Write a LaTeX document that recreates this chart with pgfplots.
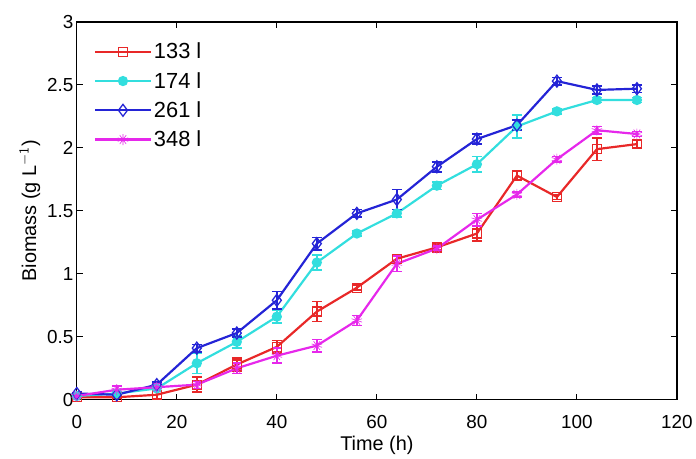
\documentclass[border=0pt]{standalone}
\usepackage{pgfplots}
\pgfplotsset{compat=1.18}
\usepackage{pgfplotstable}
\usepackage{fontspec}
\setmainfont{Liberation Sans}
\usetikzlibrary{plotmarks}
\definecolor{cred}{RGB}{232,40,40}
\definecolor{ccyan}{RGB}{50,222,222}
\definecolor{cblue}{RGB}{36,36,214}
\definecolor{cmag}{RGB}{230,40,235}

\pgfplotstableread{
t y e
0 0.02 0.01
8 0.02 0.01
16 0.04 0.03
24 0.12 0.06
32 0.28 0.05
40 0.42 0.05
48 0.70 0.08
56 0.89 0.02
64 1.12 0.03
72 1.21 0.02
80 1.32 0.06
88 1.78 0.04
96 1.61 0.02
104 1.99 0.09
112 2.03 0.03
}\tabred
\pgfplotstableread{
t y e
0 0.03 0.01
8 0.05 0.01
16 0.09 0.02
24 0.29 0.08
32 0.46 0.05
40 0.66 0.05
48 1.09 0.06
56 1.32 0.02
64 1.48 0.03
72 1.70 0.03
80 1.87 0.06
88 2.17 0.09
96 2.29 0.02
104 2.38 0.02
112 2.38 0.02
}\tabcyan
\pgfplotstableread{
t y e
0 0.05 0.01
8 0.04 0.01
16 0.12 0.02
24 0.41 0.03
32 0.53 0.03
40 0.79 0.07
48 1.24 0.05
56 1.48 0.03
64 1.59 0.08
72 1.85 0.04
80 2.07 0.04
88 2.18 0.04
96 2.53 0.03
104 2.46 0.03
112 2.47 0.03
}\tabblue
\pgfplotstableread{
t y e
0 0.03 0.01
8 0.08 0.03
16 0.10 0.03
24 0.12 0.03
32 0.25 0.04
40 0.35 0.06
48 0.43 0.05
56 0.63 0.04
64 1.08 0.06
72 1.20 0.02
80 1.43 0.05
88 1.63 0.02
96 1.91 0.02
104 2.14 0.03
112 2.11 0.02
}\tabmag

\begin{document}
\begin{tikzpicture}
\begin{axis}[
  scale only axis,
  width=602bp, height=379bp,
  xmin=0, xmax=120, ymin=0, ymax=3,
  xtick={0,20,...,120},
  ytick={0,0.5,...,3},
  yticklabels={0,0.5,1,1.5,2,2.5,3},
  /pgf/number format/assume math mode=true,
  tick label style={font=\fontsize{19}{22}\selectfont},
  xticklabel style={yshift=-12bp},
  label style={font=\fontsize{20}{23}\selectfont},
  xlabel={Time (h)},
  ylabel={Biomass (g L$^{\mathsf{-1}}$)},
  xlabel style={yshift=-1bp},
  ylabel style={yshift=0bp},
  axis line style={line width=1.3pt},
  tick style={line width=1.1pt, black},
  major tick length=6bp,
  tick align=inside,
  error bars/y dir=both,
  error bars/y explicit,
  error bars/error bar style={line width=1.6pt},
  error bars/error mark options={rotate=90, line width=1.6pt, mark size=5bp},
  legend style={draw=none, fill=white, at={(0.025,0.955)}, anchor=north west,
    font=\fontsize{22}{26}\selectfont, row sep=8bp, inner sep=2bp},
  legend cell align=left,
  legend image code/.code={%
    \draw[mark repeat=2,mark phase=2] plot coordinates {(0bp,0bp) (28bp,0bp) (56bp,0bp)};},
]
\addplot[color=cred, line width=2.2pt, mark=square, mark size=4.5bp, mark options={solid, line width=1.3pt}] table[x=t,y=y,y error=e] {\tabred};
\addlegendentry{133 l}
\addplot[color=ccyan, line width=2.2pt, mark=*, mark size=4bp, mark options={solid}] table[x=t,y=y,y error=e] {\tabcyan};
\addlegendentry{174 l}
\addplot[color=cblue, line width=2.2pt, mark=diamond, mark size=6bp, mark options={solid, line width=1.3pt}] table[x=t,y=y,y error=e] {\tabblue};
\addlegendentry{261 l}
\addplot[color=cmag, line width=2.2pt, mark=10-pointed star, mark size=5.5bp, mark options={solid, line width=0.6pt, fill=cmag}] table[x=t,y=y,y error=e] {\tabmag};
\addlegendentry{348 l}
\end{axis}
\path ([shift={(-77bp,-56bp)}]current axis.south west) rectangle ([shift={(17bp,22bp)}]current axis.north east);
\end{tikzpicture}
\end{document}
